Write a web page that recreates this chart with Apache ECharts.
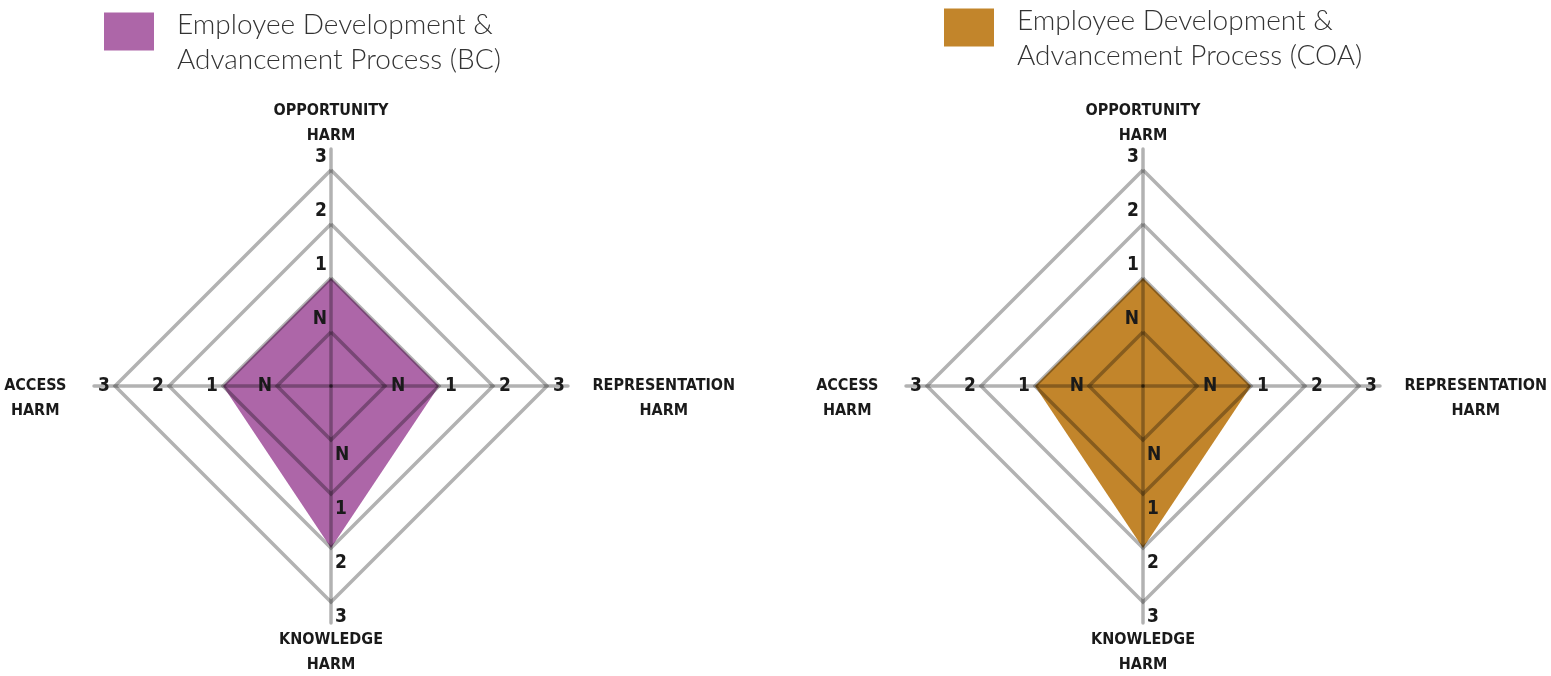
<!DOCTYPE html>
<html>
<head>
<meta charset="utf-8">
<script src="https://cdn.jsdelivr.net/npm/echarts@6/dist/echarts.min.js"></script>
<style>
  html, body { margin: 0; padding: 0; background: #fff; }
  #main { width: 1551px; height: 676px; }
</style>
</head>
<body>
<div id="main"></div>
<script>
// indicators, counterclockwise from the top
var harmNames = ['OPPORTUNITY\nHARM', 'ACCESS\nHARM', 'KNOWLEDGE\nHARM', 'REPRESENTATION\nHARM'];
// ring values 1..4 are shown as N, 1, 2, 3
var levelLabels = ['', 'N', '1', '2', '3'];
var seriesNames = ['Employee Development &\nAdvancement Process (BC)', 'Employee Development &\nAdvancement Process (COA)'];
var bcValues = [2, 2, 3, 2];
var coaValues = [2, 2, 3, 2];
var colors = ['#ad66a8', '#c2852b'];

var labelFont = '"Liberation Sans Narrow", "DejaVu Sans Condensed", sans-serif';
var gridColor = 'rgba(0,0,0,0.3)';
var centerY = 386;
var centersX = [331, 1143];

// where the tick labels sit on each axis
var labelPos = [
  { align: 'right', verticalAlign: 'bottom', margin: 4, padding: [0, 0, 3, 0] },
  { align: 'right', verticalAlign: 'middle', margin: 0, padding: [0, 5, 0, 0] },
  { align: 'left', verticalAlign: 'top', margin: 4, padding: [6, 0, 0, 0] },
  { align: 'left', verticalAlign: 'middle', margin: 0, padding: [0, 0, 0, 6] }
];
var nameRich = ['c', 'l', 'c', 'r'];

function nameStyle(extra) {
  var s = { fontFamily: labelFont, fontWeight: 'bold', fontSize: 16, lineHeight: 25, color: '#1a1a1a' };
  for (var k in extra) s[k] = extra[k];
  return s;
}

function mainRadar(cx) {
  return {
    center: [cx, centerY],
    radius: 216,
    shape: 'polygon',
    startAngle: 90,
    splitNumber: 4,
    z: 3,
    nameGap: 17,
    indicator: harmNames.map(function (n, i) {
      return { name: n, min: 0, max: 4, axisLabel: labelPos[i] };
    }),
    axisName: {
      color: '#1a1a1a',
      fontFamily: labelFont,
      fontWeight: 'bold',
      fontSize: 16,
      lineHeight: 25,
      formatter: function (name) {
        var key = nameRich[harmNames.indexOf(name)];
        var lines = name.split('\n');
        if (key === 'c') {
          return lines.map(function (l) { return '{c|' + l + '}'; }).join('\n');
        }
        var out = lines.map(function (l) {
          return key === 'r' ? '{sp|}{r|' + l + '}' : '{l|' + l + '}{sp|}';
        });
        return '{c| }\n' + out.join('\n');
      },
      rich: {
        c: nameStyle({ align: 'center' }),
        l: nameStyle({ width: 58, align: 'center' }),
        r: nameStyle({ width: 130, align: 'center' }),
        sp: nameStyle({ width: 30 })
      }
    },
    axisLine: { show: false },
    axisTick: { show: false },
    splitArea: { show: false },
    splitLine: { lineStyle: { color: gridColor, width: 3.5 } },
    axisLabel: {
      show: true,
      color: '#1a1a1a',
      fontFamily: labelFont,
      fontWeight: 'bold',
      fontSize: 19,
      showMinLabel: false,
      formatter: function (v) { return levelLabels[Math.round(v)] || ''; }
    }
  };
}

// longer radar used only for the axis spokes that run past the outer ring
function spokeRadar(cx) {
  return {
    center: [cx, centerY],
    radius: 237,
    shape: 'polygon',
    startAngle: 90,
    z: 3,
    indicator: harmNames.map(function (n) { return { name: n, min: 0, max: 4 }; }),
    axisName: { show: false },
    axisLine: { lineStyle: { color: gridColor, width: 3.5 } },
    axisTick: { show: false },
    axisLabel: { show: false },
    splitLine: { show: false },
    splitArea: { show: false }
  };
}

function legendAt(i, left, top) {
  var fam = 'Lato, "Open Sans", sans-serif';
  return {
    data: [seriesNames[i]],
    left: left,
    top: top,
    padding: 0,
    icon: 'rect',
    itemWidth: 50,
    itemHeight: 38,
    selectedMode: false,
    formatter: function (name) {
      return '{s|}\n' + name.split('\n').map(function (l) { return '{t|' + l + '}'; }).join('\n');
    },
    textStyle: {
      fontFamily: fam,
      fontWeight: 300,
      fontSize: 28,
      lineHeight: 35,
      color: '#333',
      rich: {
        s: { lineHeight: 21, height: 21, fontSize: 10 },
        t: { fontFamily: fam, fontWeight: 300, fontSize: 28, lineHeight: 35, color: '#333', padding: [0, 0, 0, 18] }
      }
    }
  };
}

function radarSeries(i, values) {
  return {
    type: 'radar',
    radarIndex: i * 2,
    z: 2,
    symbol: 'none',
    silent: true,
    lineStyle: { width: 0, opacity: 0 },
    data: [{
      name: seriesNames[i],
      value: values,
      itemStyle: { color: colors[i] },
      areaStyle: { color: colors[i], opacity: 1 }
    }]
  };
}

var chart = echarts.init(document.getElementById('main'));
chart.setOption({
  animation: false,
  legend: [legendAt(0, 104, -14), legendAt(1, 944, -18)],
  radar: [mainRadar(centersX[0]), spokeRadar(centersX[0]), mainRadar(centersX[1]), spokeRadar(centersX[1])],
  series: [radarSeries(0, bcValues), radarSeries(1, coaValues)]
});
</script>
</body>
</html>
